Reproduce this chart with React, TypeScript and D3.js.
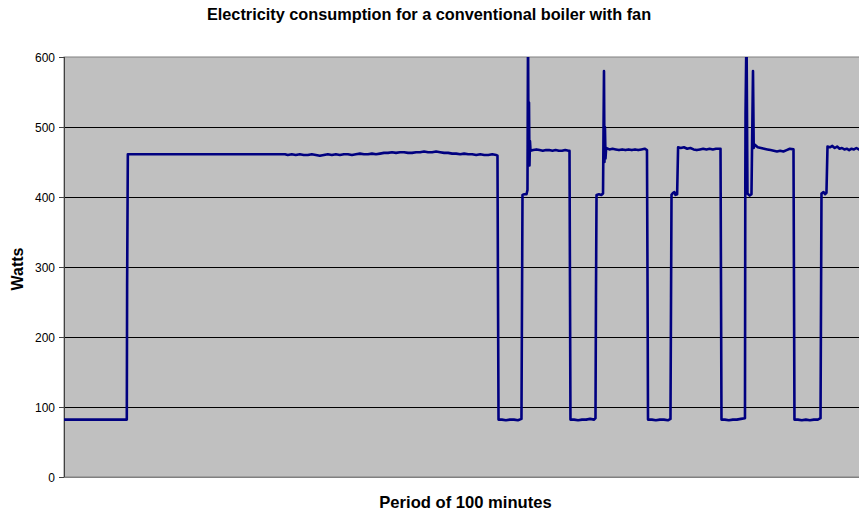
import React from "react";
import * as d3 from "d3";

// ---- Data (minute, watts) ----
const startupAndLongBurn: [number, number][] = [
  [0, 82], [7.83, 82], [7.87, 272], [7.96, 461], [27.56, 461],
  [27.9, 460], [28.4, 461], [28.9, 460], [29.4, 461], [29.9, 460], [30.4, 460], [30.9, 461],
  [31.4, 460], [31.9, 459], [32.4, 460], [32.9, 461], [33.4, 460], [33.9, 461], [34.4, 460],
  [34.9, 461], [35.4, 461], [35.9, 460], [36.4, 461], [36.9, 462], [37.4, 461], [37.9, 461],
  [38.4, 462], [38.9, 461], [39.4, 462], [39.9, 463], [40.4, 463], [40.9, 464], [41.4, 463],
  [41.9, 464], [42.4, 464], [42.9, 463], [43.4, 463], [43.9, 464], [44.4, 464], [44.9, 465],
  [45.4, 464], [45.9, 464], [46.4, 465], [46.9, 464], [47.4, 463], [47.9, 463], [48.4, 462],
  [48.9, 462], [49.4, 461], [49.9, 462], [50.4, 461], [50.9, 461], [51.4, 460], [51.9, 461],
  [52.4, 460], [52.9, 460], [53.4, 461], [53.9, 460], [54.05, 459],
];

const cycle1: [number, number][] = [
  [54.11, 275], [54.18, 82], [54.6, 82], [55.1, 81], [55.6, 82], [56.1, 82], [56.6, 81],
  [57.04, 83], [57.11, 256], [57.17, 403], [57.4, 404], [57.67, 404], [57.79, 410],
  [57.86, 640], [57.92, 450], [57.98, 535], [58.04, 445], [58.1, 480], [58.17, 466],
  [58.5, 467], [58.9, 468], [59.3, 467], [59.7, 466], [60.1, 467], [60.5, 467], [60.9, 466],
  [61.3, 467], [61.7, 466], [62.1, 466], [62.5, 467], [62.9, 466], [63.03, 466],
];

const cycle2: [number, number][] = [
  [63.09, 275], [63.15, 82], [63.6, 82], [64.1, 81], [64.6, 82], [65.1, 82], [65.6, 83],
  [66.1, 82], [66.27, 84], [66.33, 256], [66.4, 403], [66.7, 404], [67.0, 403], [67.21, 405],
  [67.33, 580], [67.39, 450], [67.45, 500], [67.52, 455], [67.6, 470], [68.0, 468],
  [68.4, 469], [68.8, 468], [69.2, 467], [69.6, 468], [70.0, 467], [70.4, 468], [70.8, 467],
  [71.2, 468], [71.6, 467], [72.0, 468], [72.4, 469], [72.69, 467],
];

const cycle3: [number, number][] = [
  [72.76, 275], [72.82, 82], [73.3, 82], [73.8, 81], [74.3, 82], [74.8, 82], [75.3, 81],
  [75.62, 83], [75.69, 256], [75.75, 403], [75.95, 406], [76.1, 407], [76.25, 403],
  [76.45, 404], [76.57, 471], [76.9, 470], [77.3, 471], [77.7, 469], [78.1, 470], [78.5, 468],
  [78.9, 467], [79.3, 468], [79.7, 469], [80.1, 468], [80.5, 469], [80.9, 468], [81.3, 469],
  [81.86, 469],
];

const cycle4: [number, number][] = [
  [81.92, 275], [81.98, 82], [82.4, 82], [82.9, 81], [83.4, 82], [83.9, 82], [84.4, 83],
  [84.91, 84], [84.95, 420], [84.98, 520], [85.1, 640], [85.22, 405], [85.5, 402],
  [85.72, 404], [85.91, 580], [86.0, 470], [86.1, 475], [86.5, 471], [86.9, 470], [87.3, 469],
  [87.7, 468], [88.1, 467], [88.5, 466], [88.9, 465], [89.3, 466], [89.7, 465], [90.1, 467],
  [90.5, 469], [90.96, 468],
];

const cycle5: [number, number][] = [
  [91.02, 275], [91.08, 82], [91.5, 82], [92.0, 81], [92.5, 82], [93.0, 81], [93.5, 82],
  [94.0, 82], [94.33, 84], [94.39, 245], [94.45, 405], [94.7, 407], [94.9, 404], [95.07, 406],
  [95.2, 472], [95.5, 471], [95.8, 473], [96.1, 470], [96.4, 472], [96.7, 469], [97.0, 470],
  [97.3, 468], [97.6, 469], [97.9, 467], [98.2, 469], [98.5, 468], [98.8, 470], [99.1, 468],
  [99.4, 469], [100, 468],
];

const yTicks = [0, 100, 200, 300, 400, 500, 600];
const title = "Electricity consumption for a conventional boiler with fan";
const yTitle = "Watts";
const xTitle = "Period of 100 minutes";

const series = [
  ...startupAndLongBurn,
  ...cycle1,
  ...cycle2,
  ...cycle3,
  ...cycle4,
  ...cycle5,
];

const W = 859;
const H = 515;
const plot = { left: 64, top: 57, right: 866, bottom: 477 };
const FONT = "'Liberation Sans', Arial, sans-serif";

export default function App() {
  const x = d3.scaleLinear().domain([0, 100]).range([plot.left, plot.right]);
  const y = d3.scaleLinear().domain([0, 600]).range([plot.bottom, plot.top]);
  const line = d3
    .line<[number, number]>()
    .x((d) => x(d[0]))
    .y((d) => y(d[1]));

  return (
    <svg
      width={W}
      height={H}
      style={{ position: "absolute", left: 0, top: 0, background: "#fff" }}
      fontFamily={FONT}
    >
      <defs>
        <clipPath id="plotClip">
          <rect
            x={plot.left}
            y={plot.top}
            width={plot.right - plot.left}
            height={plot.bottom - plot.top}
          />
        </clipPath>
      </defs>
      <rect x={0} y={0} width={W} height={H} fill="#fff" />
      <rect
        x={plot.left}
        y={plot.top}
        width={plot.right - plot.left}
        height={plot.bottom - plot.top}
        fill="#c0c0c0"
        stroke="#808080"
        strokeWidth={1}
      />
      {yTicks
        .filter((t) => t > 0 && t < 600)
        .map((t) => (
          <line
            key={"g" + t}
            x1={plot.left}
            x2={plot.right}
            y1={Math.round(y(t)) + 0.5}
            y2={Math.round(y(t)) + 0.5}
            stroke="#000"
            strokeWidth={1}
          />
        ))}
      <line
        x1={plot.left + 0.5}
        x2={plot.left + 0.5}
        y1={plot.top}
        y2={plot.bottom}
        stroke="#404040"
        strokeWidth={1}
      />
      <line
        x1={plot.left}
        x2={plot.right}
        y1={plot.bottom + 0.5}
        y2={plot.bottom + 0.5}
        stroke="#808080"
        strokeWidth={1}
      />
      {yTicks.map((t) => (
        <g key={"t" + t}>
          <line
            x1={plot.left - 5}
            x2={plot.left}
            y1={Math.round(y(t)) + 0.5}
            y2={Math.round(y(t)) + 0.5}
            stroke="#404040"
          />
          <text
            x={plot.left - 9}
            y={y(t) + 4.5}
            textAnchor="end"
            fontSize={12}
            fill="#000"
          >
            {t}
          </text>
        </g>
      ))}
      <path
        d={line(series) || ""}
        fill="none"
        stroke="#000080"
        strokeWidth={2.6}
        strokeLinejoin="round"
        clipPath="url(#plotClip)"
      />
      <text
        x={429}
        y={20}
        textAnchor="middle"
        fontSize={16.3}
        fontWeight="bold"
        fill="#000"
      >
        {title}
      </text>
      <text
        transform={`translate(23, 269) rotate(-90)`}
        textAnchor="middle"
        fontSize={16}
        fontWeight="bold"
        fill="#000"
      >
        {yTitle}
      </text>
      <text
        x={465.5}
        y={508}
        textAnchor="middle"
        fontSize={16.6}
        fontWeight="bold"
        fill="#000"
      >
        {xTitle}
      </text>
    </svg>
  );
}
